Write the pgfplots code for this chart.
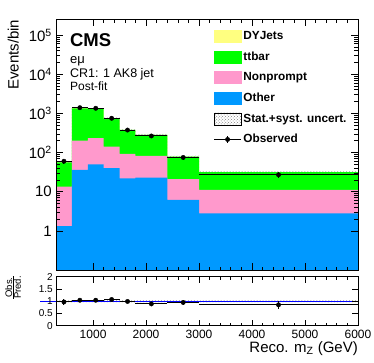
\documentclass[border=0pt]{standalone}
\usepackage{fontspec}
\setmainfont{Liberation Sans}
\usepackage{pgfplots}
\pgfplotsset{compat=1.18}
\usetikzlibrary{patterns}

\definecolor{dyjets}{RGB}{255,255,128}
\definecolor{ttbar}{RGB}{0,255,0}
\definecolor{nonprompt}{RGB}{255,153,204}
\definecolor{other}{RGB}{0,153,255}

\pgfplotsset{
  cmsframe/.style={
    scale only axis, width=302bp,
    xmin=300, xmax=6000,
    tick align=inside, tick pos=both,
    axis on top,
    axis line style={line width=0.8bp},
    every tick/.style={black, line width=0.7bp},
    xtick={1000,2000,3000,4000,5000,6000},
    minor x tick num=4,
  },
}

\begin{document}
\begin{tikzpicture}
\path[use as bounding box] (0,0) rectangle (374bp,-363bp);

% main panel: stacked backgrounds, events per bin
\begin{axis}[
  cmsframe,
  at={(56bp,-19.5bp)}, anchor=north west,
  height=250.5bp,
  ymode=log, ymin=0.1, ymax=2.5e5,
  xticklabels={},
  ytick={1,10,100,1000,10000,100000},
  yticklabels={1,10,10\textsuperscript{2},10\textsuperscript{3},10\textsuperscript{4},10\textsuperscript{5}},
  major tick length=7bp, minor tick length=3.5bp,
  yticklabel style={font=\fontsize{15bp}{15bp}\selectfont, inner sep=0pt, xshift=-4bp},
  ylabel={Events/bin},
  ylabel style={at={(rel axis cs:-0.1225,1)}, anchor=south east, inner sep=0pt,
    font=\fontsize{15bp}{15bp}\selectfont},
  legend style={at={(rel axis cs:0.512,0.969)}, anchor=north west, draw=none, fill=none,
    font=\bfseries\fontsize{11.8bp}{13bp}\selectfont,
    cells={anchor=west}, row sep=6.8bp},
]
% cumulative: DY+tt+NP+Other, tt+NP+Other, NP+Other, Other
\addplot[fill=dyjets, draw=none, const plot, forget plot] coordinates {
  (300,0.1) (300,57) (600,1355) (900,1305) (1200,738) (1500,380) (1800,284)
  (2400,79) (3000,31.6) (6000,31.6) (6000,0.1)};
\addplot[fill=ttbar, draw=none, const plot, forget plot] coordinates {
  (300,0.1) (300,56.5) (600,1350) (900,1300) (1200,735) (1500,378) (1800,282)
  (2400,78.6) (3000,31.4) (6000,31.4) (6000,0.1)};
\addplot[fill=nonprompt, draw=none, const plot, forget plot] coordinates {
  (300,0.1) (300,13.5) (600,201) (900,232) (1200,141) (1500,92) (1800,82)
  (2400,20.8) (3000,11.1) (6000,11.1) (6000,0.1)};
\addplot[fill=other, draw=none, const plot, forget plot] coordinates {
  (300,0.1) (300,1.33) (600,36) (900,50) (1200,40) (1500,22) (1800,23)
  (2400,6.2) (3000,2.8) (6000,2.8) (6000,0.1)};

% stat.+syst. band: upper edge left to right, lower edge right to left
\addplot[pattern=crosshatch dots, pattern color=gray, draw=none, forget plot] coordinates {
  (300,59.9) (600,59.9) (600,1423) (900,1423) (900,1370) (1200,1370)
  (1200,775) (1500,775) (1500,399) (1800,399) (1800,298) (2400,298)
  (2400,83) (3000,83) (3000,33.2) (6000,33.2)
  (6000,30.0) (3000,30.0) (3000,75) (2400,75) (2400,270) (1800,270)
  (1800,361) (1500,361) (1500,701) (1200,701) (1200,1240) (900,1240)
  (900,1287) (600,1287) (600,54.2) (300,54.2)} -- cycle;

% observed
\addplot[black, only marks, mark=*, mark size=2.2bp, forget plot,
  error bars/.cd, x dir=both, x explicit, y dir=both, y explicit, error mark=none,
  error bar style={line width=1bp, black}] coordinates {
  (450,60) +- (150,7.7)
  (750,1400) +- (150,37)
  (1050,1350) +- (150,37)
  (1350,750) +- (150,27)
  (1650,375) +- (150,19)
  (2100,265) +- (300,16)
  (2700,75) +- (300,8.7)
  (4500,27) +- (1500,5.2)};

\addlegendimage{legend image code/.code={\fill[dyjets] (0bp,-6bp) rectangle (26.6bp,6bp);}}
\addlegendentry{DYJets}
\addlegendimage{legend image code/.code={\fill[ttbar] (0bp,-6bp) rectangle (26.6bp,6bp);}}
\addlegendentry{ttbar}
\addlegendimage{legend image code/.code={\fill[nonprompt] (0bp,-6bp) rectangle (26.6bp,6bp);}}
\addlegendentry{Nonprompt}
\addlegendimage{legend image code/.code={\fill[other] (0bp,-6bp) rectangle (26.6bp,6bp);}}
\addlegendentry{Other}
\addlegendimage{legend image code/.code={\fill[pattern=crosshatch dots, pattern color=gray] (0bp,-6bp) rectangle (26.6bp,6bp);}}
\addlegendentry{Stat.+syst. uncert.}
\addlegendimage{legend image code/.code={\draw[black, line width=1bp] (0bp,0bp) -- (26.6bp,0bp) (13.3bp,-3.5bp) -- (13.3bp,3.5bp); \fill[black] (13.3bp,0bp) circle (2.2bp);}}
\addlegendentry{Observed}

\node[anchor=base west, inner sep=0pt, font=\bfseries\fontsize{18.5bp}{18.5bp}\selectfont] at (rel axis cs:0.046,0.891) {CMS};
\node[anchor=base west, inner sep=0pt, font=\fontsize{13bp}{13bp}\selectfont] at (rel axis cs:0.046,0.825) {eμ};
\node[anchor=base west, inner sep=0pt, font=\fontsize{12.5bp}{12.5bp}\selectfont] at (rel axis cs:0.046,0.769) {CR1: 1 AK8 jet};
\node[anchor=base west, inner sep=0pt, font=\fontsize{12bp}{12bp}\selectfont] at (rel axis cs:0.046,0.716) {Post-fit};
\node[anchor=base east, inner sep=0pt, font=\bfseries\fontsize{11.5bp}{11.5bp}\selectfont] at (rel axis cs:1,1.018) {138 fb\textsuperscript{-1} (13 TeV)};
\end{axis}

% ratio panel
\begin{axis}[
  cmsframe,
  at={(56bp,-276.7bp)}, anchor=north west,
  height=49bp,
  ymin=0, ymax=2,
  clip=false,
  xticklabels={1000,2000,3000,4000,5000,6000},
  ytick={0,0.5,1,1.5,2},
  yticklabels={0,0.5,1,1.5,2},
  major tick length=6bp, minor tick length=3bp,
  xticklabel style={font=\fontsize{12bp}{12bp}\selectfont, inner sep=0pt, yshift=-4bp},
  yticklabel style={font=\fontsize{10bp}{10bp}\selectfont, inner sep=0pt, xshift=-3bp},
  xlabel={Reco. m\textsubscript{Z} (GeV)},
  xlabel style={at={(rel axis cs:1,-0.537)}, anchor=base east, inner sep=0pt,
    font=\fontsize{15bp}{15bp}\selectfont},
  ylabel={$\frac{\mbox{Obs.}}{\mbox{Pred.}}$},
  ylabel style={at={(rel axis cs:-0.115,1.04)}, anchor=south east, inner sep=0pt,
    font=\fontsize{9.5bp}{9.5bp}\selectfont},
]
\addplot[pattern=crosshatch dots, pattern color=gray, draw=none, forget plot] coordinates {
  (300,0.96) (300,1.04) (6000,1.04) (6000,0.96)} -- cycle;
\addplot[blue, line width=0.8bp, forget plot] coordinates {(0,1) (6000,1)};
\addplot[black, only marks, mark=*, mark size=2.2bp, forget plot,
  error bars/.cd, x dir=both, x explicit, y dir=both, y explicit, error mark=none,
  error bar style={line width=1bp, black}] coordinates {
  (450,0.97) +- (150,0.13)
  (750,1.04) +- (150,0.03)
  (1050,1.04) +- (150,0.03)
  (1350,1.07) +- (150,0.04)
  (1650,0.99) +- (150,0.05)
  (2100,0.89) +- (300,0.06)
  (2700,0.95) +- (300,0.11)
  (4500,0.85) +- (1500,0.15)};
\end{axis}
\end{tikzpicture}
\end{document}
